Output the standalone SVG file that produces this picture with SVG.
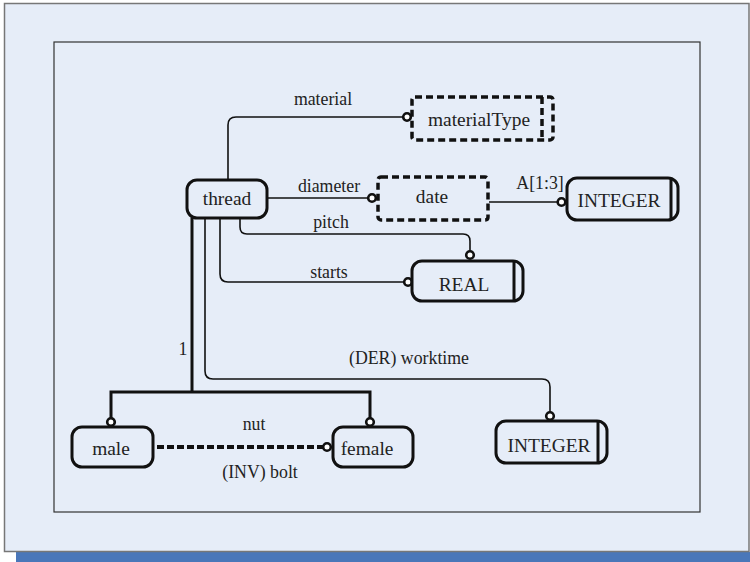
<svg xmlns="http://www.w3.org/2000/svg" width="750" height="562" viewBox="0 0 750 562">
<defs>
<style>
.node{fill:none;stroke:#111;stroke-width:3}
.dnode{fill:none;stroke:#111;stroke-width:3.5;stroke-dasharray:7 4}
.bar{stroke:#111;stroke-width:3}
.dbar{stroke:#111;stroke-width:3.5;stroke-dasharray:7 4}
.ntext{font-family:'Liberation Serif','Times New Roman',serif;font-size:19.4px;fill:#222;text-anchor:middle}
.ltext{font-family:'Liberation Serif','Times New Roman',serif;font-size:17.8px;fill:#222;text-anchor:middle}
.conn{fill:none;stroke:#111;stroke-width:1.6}
.thick{fill:none;stroke:#111;stroke-width:3}
.dconn{fill:none;stroke:#111;stroke-width:4;stroke-dasharray:7 3}
.end{fill:#fff;stroke:#111;stroke-width:2.6}
</style>
</defs>
<rect x="16" y="552" width="734" height="10" fill="#4A77B9"/>
<rect x="4.5" y="3.5" width="744.5" height="548" fill="#E6EDF8" stroke="#777" stroke-width="1.5"/>
<rect x="54" y="42" width="646" height="470" fill="#E6EDF8" stroke="#333" stroke-width="1.2"/>

<g id="connectors">
<path class="conn" d="M228,180 V125 Q228,117 236,117 H403"/>
<circle class="end" cx="407" cy="117" r="3.8"/>
<path class="conn" d="M267,198 H368"/>
<circle class="end" cx="372" cy="198" r="3.8"/>
<path class="conn" d="M489,202 H557"/>
<circle class="end" cx="561.5" cy="202" r="3.8"/>
<path class="conn" d="M240,218 V227 Q240,234 247,234 H463 Q470,234 470,241 V251"/>
<circle class="end" cx="470" cy="255" r="3.8"/>
<path class="conn" d="M220,218 V274 Q220,282 228,282 H404"/>
<circle class="end" cx="408" cy="282" r="3.8"/>
<path class="conn" d="M205,218 V371 Q205,379 213,379 H542 Q550,379 550,387 V412"/>
<circle class="end" cx="550" cy="416" r="3.8"/>
<path class="thick" d="M192,218 V392"/>
<path class="thick" d="M111,418 V392 H370 V418"/>
<circle class="end" cx="111" cy="422" r="3.8"/>
<circle class="end" cx="370" cy="422" r="3.8"/>
<path class="dconn" d="M157,447 H323"/>
<circle class="end" cx="327" cy="447" r="3.8"/>
<text class="ltext" x="323" y="105">material</text>
<text class="ltext" x="329" y="192">diameter</text>
<text class="ltext" x="540" y="189">A[1:3]</text>
<text class="ltext" x="331" y="228">pitch</text>
<text class="ltext" x="329" y="278">starts</text>
<text class="ltext" x="183" y="355">1</text>
<text class="ltext" x="409" y="364">(DER) worktime</text>
<text class="ltext" x="254" y="430">nut</text>
<text class="ltext" x="260" y="478">(INV) bolt</text>
</g>

<g id="thread">
<rect class="node" x="187" y="180" width="80" height="38" rx="10"/>
<text class="ntext" x="227" y="205">thread</text>
</g>
<g id="materialType">
<rect class="dnode" x="412" y="97" width="141" height="43" rx="3"/>
<line class="dbar" x1="542" y1="97" x2="542" y2="140"/>
<text class="ntext" x="479" y="126">materialType</text>
</g>
<g id="date">
<rect class="dnode" x="378" y="177" width="110" height="43" rx="3"/>
<text class="ntext" x="432" y="203">date</text>
</g>
<g id="integer1">
<rect class="node" x="567" y="178" width="111" height="42" rx="10"/>
<line class="bar" x1="671" y1="178" x2="671" y2="220"/>
<text class="ntext" x="619" y="207">INTEGER</text>
</g>
<g id="real">
<rect class="node" x="412" y="261" width="111" height="40" rx="10"/>
<line class="bar" x1="514" y1="261" x2="514" y2="301"/>
<text class="ntext" x="464" y="291">REAL</text>
</g>
<g id="male">
<rect class="node" x="72" y="427" width="81" height="40" rx="10"/>
<text class="ntext" x="111" y="455">male</text>
</g>
<g id="female">
<rect class="node" x="333" y="427" width="80" height="40" rx="10"/>
<text class="ntext" x="367" y="455">female</text>
</g>
<g id="integer2">
<rect class="node" x="496" y="421" width="111" height="42" rx="10"/>
<line class="bar" x1="598" y1="421" x2="598" y2="463"/>
<text class="ntext" x="549" y="452">INTEGER</text>
</g>
</svg>
